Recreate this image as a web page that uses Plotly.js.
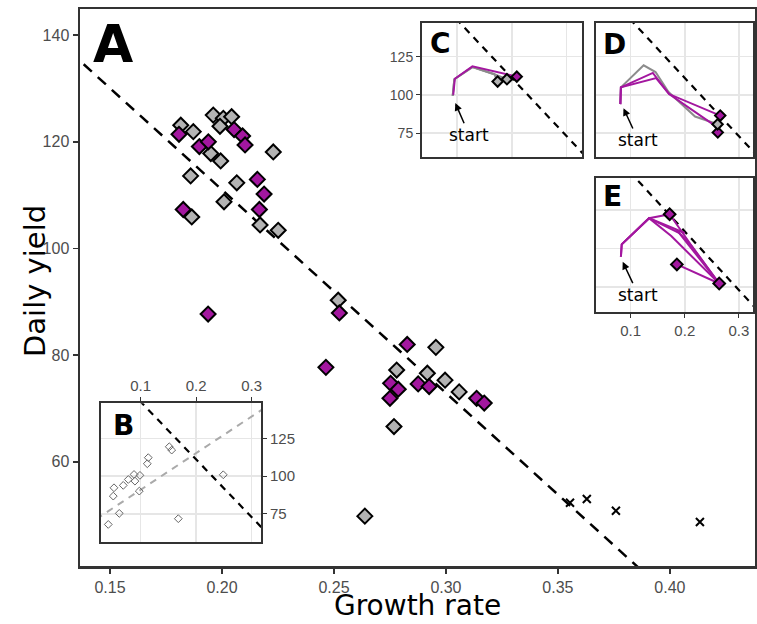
<!DOCTYPE html>
<html>
<head>
<meta charset="utf-8">
<script src="https://cdn.plot.ly/plotly-3.0.1.min.js"></script>
<style>html,body{margin:0;padding:0;background:#fff;}#chart{width:757px;height:624px;}</style>
</head>
<body>
<div id="chart"></div>
<script>
// ---------- Main panel (A) data ----------
const grayX = [0.1816,0.1872,0.1961,0.2006,0.2043,0.1991,0.2229,0.1950,0.1994,0.1860,0.2066,0.2009,0.2170,0.2251,0.1865,0.2519,0.2955,0.2780,0.2917,0.2996,0.3059,0.2768,0.2638];
const grayY = [123.1,121.9,125.0,124.4,124.7,122.9,118.1,117.8,116.4,113.6,112.3,108.75,104.4,103.4,105.9,90.3,81.45,77.2,76.6,75.3,73.1,66.6,49.8];
const purpleX = [0.1808,0.2054,0.2092,0.2103,0.1899,0.1939,0.2158,0.2188,0.2167,0.1827,0.1938,0.2524,0.2464,0.2827,0.2753,0.2787,0.2750,0.2876,0.2925,0.3137,0.3171];
const purpleY = [121.4,122.3,121.1,119.4,119.1,120.0,112.95,110.2,107.3,107.3,87.7,87.9,77.7,82.0,74.7,73.6,71.9,74.6,74.1,71.9,71.0];
const crossX = [0.3554,0.3629,0.3759,0.4134];
const crossY = [52.3,53.0,50.8,48.7];
// reference (dashed) line: yield = intercept + slope * rate
const lineIntercept = 187.2;
const lineSlope = -381;
const lineXExtent = [0.0, 0.5];

// ---------- Inset B ----------
const bX = [0.0416,0.0614,0.0506,0.0519,0.0686,0.0777,0.0880,0.0897,0.0987,0.0975,0.1119,0.1137,0.1515,0.1559,0.2488,0.1678];
const bY = [68.1,75.4,86.8,92.3,93.9,97.8,101.1,96.7,100.5,90.1,108.2,112.2,119.4,117.2,100.9,71.9];
const bFitIntercept = 66.8;
const bFitSlope = 242;

// ---------- Inset C trajectories ----------
const cGray1X = [0.092,0.095,0.128,0.168,0.174];
const cGray1Y = [99.3,110.2,118.1,113.5,108.7];
const cGray2X = [0.092,0.095,0.128,0.168,0.191];
const cGray2Y = [99.3,110.2,118.1,113.5,110.2];
const cPurpleX = [0.093,0.096,0.128,0.209];
const cPurpleY = [100.0,110.5,118.6,111.9];
const cEndGrayX = [0.174,0.191];
const cEndGrayY = [108.7,110.2];
const cEndPurpleX = [0.209];
const cEndPurpleY = [111.9];

// ---------- Inset D trajectories ----------
const dGrayX = [0.081,0.082,0.124,0.146,0.170,0.219,0.261];
const dGrayY = [93.9,104.9,119.3,114.9,101.8,85.8,80.7];
const dPurple1X = [0.081,0.082,0.141,0.171,0.2655];
const dPurple1Y = [93.9,104.9,114.3,100.5,86.4];
const dPurple2X = [0.081,0.082,0.147,0.171,0.261];
const dPurple2Y = [93.9,104.9,111.0,100.5,78.5];
const dEndGrayX = [0.2606];
const dEndGrayY = [80.7];
const dEndPurpleX = [0.2655,0.261];
const dEndPurpleY = [86.4,75.4];

// ---------- Inset E trajectories ----------
const e1X = [0.082,0.0835,0.134,0.172];
const e1Y = [94.6,102.6,119.6,122.2];
const e2X = [0.082,0.0835,0.134,0.19,0.21,0.2636];
const e2Y = [94.6,102.6,119.6,110.0,102.6,77.2];
const e3X = [0.0835,0.134,0.175,0.2636];
const e3Y = [102.6,119.6,108.0,77.2];
const e4X = [0.134,0.20,0.185,0.2636];
const e4Y = [119.6,110.0,112.0,77.2];
const e5X = [0.1854,0.2636];
const e5Y = [89.6,77.2];
const e6X = [0.172,0.21,0.2636];
const e6Y = [122.2,103.0,77.2];
const eEndX = [0.172,0.1854,0.2636];
const eEndY = [122.2,89.6,77.2];

// ---------- styles ----------
const PURPLE = '#a3179f';
const GRAY = '#b3b3b3';
const LGRAY = '#8c8c8c';
const TICKFONT = {family:'Liberation Sans, Arial, sans-serif', size:16, color:'#4d4d4d'};

function refLine(xa, ya, width, dash){
  const xs = lineXExtent.slice();
  return {x: xs, y: xs.map(v => lineIntercept + lineSlope*v), mode:'lines', xaxis:xa, yaxis:ya,
    line:{color:'#000', width:width, dash:dash}, hoverinfo:'skip', showlegend:false};
}
function path(xs, ys, color, xa, ya){
  return {x:xs, y:ys, mode:'lines', xaxis:xa, yaxis:ya, line:{color:color, width:2}, hoverinfo:'skip', showlegend:false};
}
function dia(xs, ys, fill, xa, ya, size){
  return {x:xs, y:ys, mode:'markers', xaxis:xa, yaxis:ya, cliponaxis:false,
    marker:{symbol:'diamond', size:size, color:fill, line:{color:'#000', width:2}}, hoverinfo:'skip', showlegend:false};
}

const traces = [
  refLine('x','y',2.5,'11px,8px'),
  dia(grayX, grayY, GRAY, 'x','y',11.5),
  dia(purpleX, purpleY, PURPLE, 'x','y',11.5),
  {x:crossX, y:crossY, mode:'markers', xaxis:'x', yaxis:'y',
   marker:{symbol:'x-thin', size:8, color:'#000', line:{color:'#000', width:2}}, hoverinfo:'skip', showlegend:false},

  // C
  refLine('x2','y2',2.2,'7px,6px'),
  path(cGray1X,cGray1Y,LGRAY,'x2','y2'),
  path(cGray2X,cGray2Y,LGRAY,'x2','y2'),
  path(cPurpleX,cPurpleY,PURPLE,'x2','y2'),
  dia(cEndGrayX,cEndGrayY,GRAY,'x2','y2',8),
  dia(cEndPurpleX,cEndPurpleY,PURPLE,'x2','y2',8),

  // D
  refLine('x3','y3',2.2,'7px,6px'),
  path(dGrayX,dGrayY,LGRAY,'x3','y3'),
  path(dPurple1X,dPurple1Y,PURPLE,'x3','y3'),
  path(dPurple2X,dPurple2Y,PURPLE,'x3','y3'),
  dia(dEndPurpleX,dEndPurpleY,PURPLE,'x3','y3',8),
  dia(dEndGrayX,dEndGrayY,GRAY,'x3','y3',8),

  // E
  refLine('x4','y4',2.2,'7px,6px'),
  path(e1X,e1Y,PURPLE,'x4','y4'),
  path(e2X,e2Y,PURPLE,'x4','y4'),
  path(e3X,e3Y,PURPLE,'x4','y4'),
  path(e4X,e4Y,PURPLE,'x4','y4'),
  path(e5X,e5Y,PURPLE,'x4','y4'),
  path(e6X,e6Y,PURPLE,'x4','y4'),
  dia(eEndX,eEndY,PURPLE,'x4','y4',9),

  // B
  {x:lineXExtent, y:lineXExtent.map(v => bFitIntercept + bFitSlope*v), mode:'lines', xaxis:'x5', yaxis:'y5',
   line:{color:'#aaaaaa', width:2, dash:'7px,6px'}, hoverinfo:'skip', showlegend:false},
  refLine('x5','y5',2.2,'7px,6px'),
  {x:bX, y:bY, mode:'markers', xaxis:'x5', yaxis:'y5',
   marker:{symbol:'diamond-open', size:6, color:'#666', line:{color:'#666', width:1}}, hoverinfo:'skip', showlegend:false}
];

// paper fractions: plot area x 80..755, y 9..566
const W = 675, H = 557;
function fx(px){ return (px-80)/W; }
function fy(py){ return (566-py)/H; }

const insetAxisBase = {showline:true, mirror:true, linecolor:'#333', linewidth:2, zeroline:false,
  showgrid:true, gridcolor:'#e6e6e6', gridwidth:1.5, fixedrange:true};
const TITLEFONT = {family:'DejaVu Sans, sans-serif', size:28, color:'#000'};

const layout = {
  width:757, height:624,
  margin:{l:80, r:2, t:9, b:58},
  paper_bgcolor:'#fff', plot_bgcolor:'#fff',
  showlegend:false,
  xaxis:{range:[0.1366,0.438], domain:[0,1], dtick:0.05, tick0:0.15, tickformat:'.2f',
    showline:true, mirror:true, linecolor:'#333', linewidth:2.5, showgrid:false, zeroline:false,
    ticks:'outside', ticklen:5, tickwidth:1.5, tickcolor:'#333', tickfont:TICKFONT},
  yaxis:{range:[40.45,144.9], domain:[0,1], tickvals:[60,80,100,120,140],
    showline:true, mirror:true, linecolor:'#333', linewidth:2.5, showgrid:false, zeroline:false,
    ticks:'outside', ticklen:5, tickwidth:1.5, tickcolor:'#333', tickfont:TICKFONT},

  // C
  xaxis2:Object.assign({}, insetAxisBase, {anchor:'y2', domain:[fx(422),fx(582)], range:[0.036,0.328],
    tickvals:[0.1,0.2,0.3], showticklabels:false, ticks:''}),
  yaxis2:Object.assign({}, insetAxisBase, {anchor:'x2', domain:[fy(157),fy(23)], range:[59.3,147],
    tickvals:[75,100,125], showticklabels:true, ticks:'outside', ticklen:4, tickcolor:'#333',
    tickfont:{family:'Liberation Sans, Arial, sans-serif', size:14, color:'#4d4d4d'}}),
  // D
  xaxis3:Object.assign({}, insetAxisBase, {anchor:'y3', domain:[fx(596),fx(753)], range:[0.036,0.326],
    tickvals:[0.1,0.2,0.3], showticklabels:false, ticks:''}),
  yaxis3:Object.assign({}, insetAxisBase, {anchor:'x3', domain:[fy(157),fy(23)], range:[59.3,147],
    tickvals:[75,100,125], showticklabels:false, ticks:''}),
  // E
  xaxis4:Object.assign({}, insetAxisBase, {anchor:'y4', domain:[fx(596),fx(753)], range:[0.036,0.326],
    tickvals:[0.1,0.2,0.3], ticktext:['0.1','0.2','0.3'], showticklabels:true, ticks:'outside', ticklen:4, tickcolor:'#333',
    tickfont:{family:'Liberation Sans, Arial, sans-serif', size:15, color:'#4d4d4d'}}),
  yaxis4:Object.assign({}, insetAxisBase, {anchor:'x4', domain:[fy(312),fy(178)], range:[58.7,145.7],
    tickvals:[75,100,125], showticklabels:false, ticks:''}),
  // B
  xaxis5:Object.assign({}, insetAxisBase, {anchor:'y5', side:'top', domain:[fx(101),fx(261)], range:[0.0285,0.3168],
    tickvals:[0.1,0.2,0.3], ticktext:['0.1','0.2','0.3'], showticklabels:true, ticks:'outside', ticklen:4, tickcolor:'#333',
    tickfont:{family:'Liberation Sans, Arial, sans-serif', size:15, color:'#4d4d4d'}}),
  yaxis5:Object.assign({}, insetAxisBase, {anchor:'x5', side:'right', domain:[fy(541.7),fy(403.3)], range:[56.7,148.1],
    tickvals:[75,100,125], showticklabels:true, ticks:'outside', ticklen:4, tickcolor:'#333',
    tickfont:{family:'Liberation Sans, Arial, sans-serif', size:15, color:'#4d4d4d'}}),

  annotations:[
    // axis titles
    {text:'Growth rate', xref:'paper', yref:'paper', x:fx(417.5), y:fy(605), xanchor:'center', yanchor:'middle',
     showarrow:false, font:TITLEFONT},
    {text:'Daily yield', xref:'paper', yref:'paper', x:fx(35), y:fy(281), xanchor:'center', yanchor:'middle',
     textangle:-90, showarrow:false, font:{family:'DejaVu Sans, sans-serif', size:29, color:'#000'}},
    // panel letters
    {text:'<b>A</b>', xref:'paper', yref:'paper', x:fx(113), y:fy(44), xanchor:'center', yanchor:'middle', showarrow:false,
     font:{family:'DejaVu Sans, sans-serif', size:52, color:'#000'}},
    {text:'<b>C</b>', xref:'paper', yref:'paper', x:fx(440), y:fy(43), xanchor:'center', yanchor:'middle', showarrow:false,
     font:{family:'DejaVu Sans, sans-serif', size:28, color:'#000'}},
    {text:'<b>D</b>', xref:'paper', yref:'paper', x:fx(614), y:fy(44), xanchor:'center', yanchor:'middle', showarrow:false,
     font:{family:'DejaVu Sans, sans-serif', size:28, color:'#000'}},
    {text:'<b>E</b>', xref:'paper', yref:'paper', x:fx(612), y:fy(197), xanchor:'center', yanchor:'middle', showarrow:false,
     font:{family:'DejaVu Sans, sans-serif', size:28, color:'#000'}},
    {text:'<b>B</b>', xref:'paper', yref:'paper', x:fx(123), y:fy(425), xanchor:'center', yanchor:'middle', showarrow:false,
     font:{family:'DejaVu Sans, sans-serif', size:28, color:'#000'}},
    // "start" arrows
    {text:'start', xref:'x2', yref:'y2', x:0.0968, y:94.6, axref:'x2', ayref:'y2', ax:0.122, ay:73.9,
     showarrow:true, arrowhead:2, arrowsize:1, arrowwidth:1.5, arrowcolor:'#000',
     font:{family:'DejaVu Sans, sans-serif', size:17, color:'#000'}},
    {text:'start', xref:'x3', yref:'y3', x:0.0868, y:91.25, axref:'x3', ayref:'y3', ax:0.1138, ay:70.4,
     showarrow:true, arrowhead:2, arrowsize:1, arrowwidth:1.5, arrowcolor:'#000',
     font:{family:'DejaVu Sans, sans-serif', size:17, color:'#000'}},
    {text:'start', xref:'x4', yref:'y4', x:0.0853, y:91.3, axref:'x4', ayref:'y4', ax:0.114, ay:70.0,
     showarrow:true, arrowhead:2, arrowsize:1, arrowwidth:1.5, arrowcolor:'#000',
     font:{family:'DejaVu Sans, sans-serif', size:17, color:'#000'}}
  ]
};

Plotly.newPlot('chart', traces, layout, {staticPlot:true, displayModeBar:false});
</script>
</body>
</html>
